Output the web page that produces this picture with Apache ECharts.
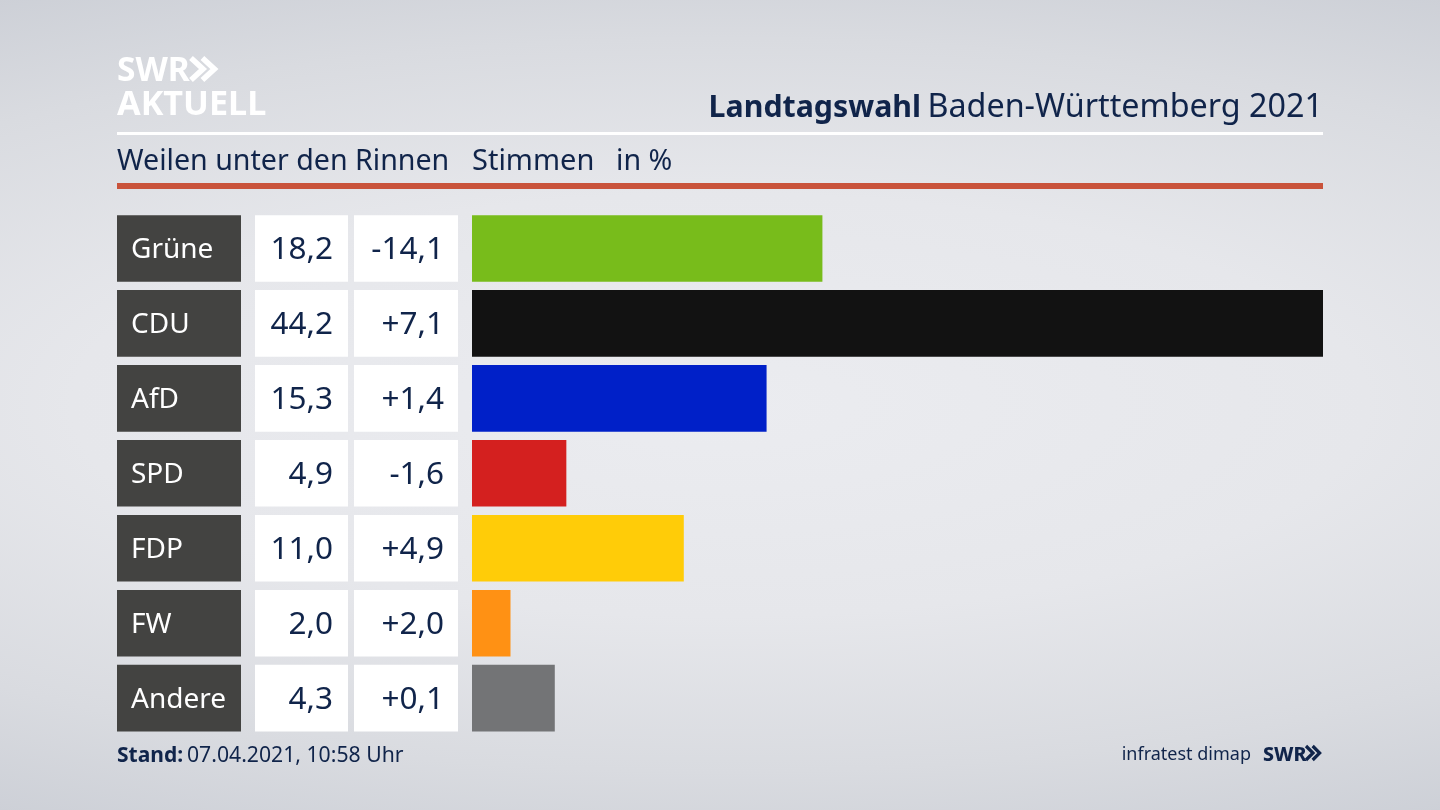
<!DOCTYPE html>
<html><head><meta charset="utf-8">
<style>html,body{margin:0;padding:0;width:1440px;height:810px;overflow:hidden;
background:radial-gradient(ellipse 100% 58% at 50% 50%,#ebecf0 0%,#e6e7eb 45%,#d9dbe0 78%,#cdd0d7 100%)}
#c{width:1440px;height:810px}</style>
<script src="https://cdn.jsdelivr.net/npm/echarts@6/dist/echarts.min.js"></script>
</head><body><div id="c"></div>
<script>
const parties=['Grüne','CDU','AfD','SPD','FDP','FW','Andere'];
const shares=[18.2,44.2,15.3,4.9,11.0,2.0,4.3];
const diffs=['-14,1','+7,1','+1,4','-1,6','+4,9','+2,0','+0,1'];
const colors=['#78bc1b','#121212','#0020c8','#d4201f','#ffcc08','#ff9114','#737476'];
const FONT='"Noto Sans"', NAVY='#10244a';
const de=v=>v.toFixed(1).replace('.',',');
const chevrons=(x,y,h,w,lw,color)=>[0,1].map(i=>({type:'polyline',silent:true,
  shape:{points:[[x+i*w*0.95,y],[x+i*w*0.95+w,y+h/2],[x+i*w*0.95,y+h]]},
  style:{stroke:color,lineWidth:lw,fill:null}}));
const t=(x,y,text,size,weight,color,align)=>({type:'text',x,y,silent:true,
  style:{text,font:`${weight} ${size}px ${FONT}`,fill:color,textAlign:align||'left',textVerticalAlign:'middle'}});
const cell=(margin,align,width,pad,bg,color,size)=>({
  margin,align,verticalAlign:'middle',width,height:66.6,padding:pad,backgroundColor:bg,
  formatter:v=>`{a|${v}}`,
  rich:{a:{color,fontFamily:FONT,fontSize:size,lineHeight:66,padding:[4,0,0,0]}}
});
const chart=echarts.init(document.getElementById('c'),null,{renderer:'canvas',width:1440,height:810});
chart.setOption({
  animation:false,
  backgroundColor:'transparent',
  grid:{left:472,top:211,width:851,height:524.6,containLabel:false},
  xAxis:{type:'value',min:0,max:44.2,show:false},
  yAxis:[
    {type:'category',inverse:true,data:parties,position:'left',
      axisLine:{show:false},axisTick:{show:false},
      axisLabel:cell(355,'left',110,[0,0,0,14],'#434341','#fff',28)},
    {type:'category',inverse:true,data:shares.map(de),position:'left',
      axisLine:{show:false},axisTick:{show:false},
      axisLabel:cell(124,'right',78,[0,15,0,0],'#fff',NAVY,31.5)},
    {type:'category',inverse:true,data:diffs,position:'left',
      axisLine:{show:false},axisTick:{show:false},
      axisLabel:cell(14,'right',90,[0,14,0,0],'#fff',NAVY,31.5)}
  ],
  series:[{type:'bar',yAxisIndex:0,barWidth:66.6,silent:true,
    data:shares.map((v,i)=>({value:v,itemStyle:{color:colors[i]}}))}],
  graphic:{elements:[
    {type:'rect',silent:true,shape:{x:117,y:132,width:1206,height:3},style:{fill:'#fff'}},
    {type:'rect',silent:true,shape:{x:117,y:183,width:1206,height:6},style:{fill:'#c9533b'}},
    t(117,71,'SWR',33.5,700,'#fff'),
    ...chevrons(191,58,22,12,5.5,'#fff'),
    t(117,105,'AKTUELL',34.2,700,'#fff'),
    t(921,108,'Landtagswahl',30.3,700,NAVY,'right'),
    t(1323,108,'Baden-Württemberg 2021',32.3,400,NAVY,'right'),
    t(117,162,'Weilen unter den Rinnen',28.6,400,NAVY),
    t(472,162,'Stimmen',29,400,NAVY),
    t(616,162,'in %',28.6,400,NAVY),
    t(117,756,'Stand:',21,700,NAVY),
    t(187,756,'07.04.2021, 10:58 Uhr',21.2,400,NAVY),
    t(1251,755,'infratest dimap',18,400,NAVY,'right'),
    t(1263,755,'SWR',19.5,800,NAVY),
    ...chevrons(1306,746,14,7,3.2,NAVY)
  ]}
});
</script></body></html>
